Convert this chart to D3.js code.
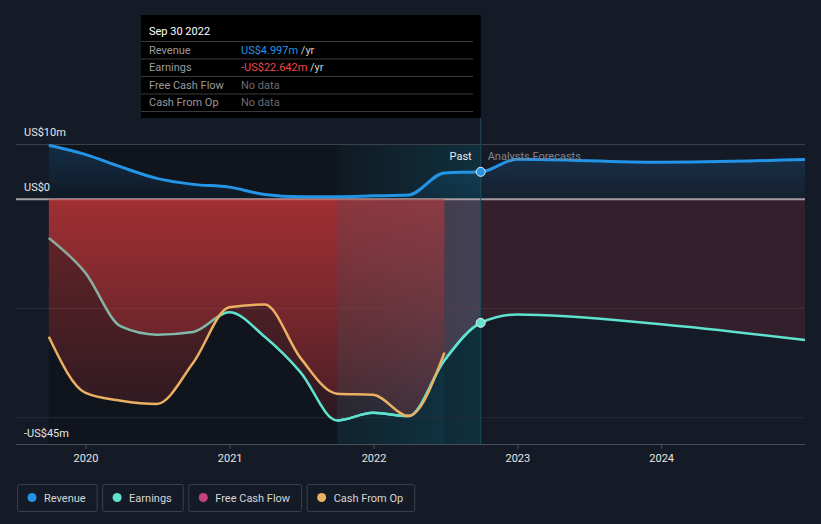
<!DOCTYPE html>
<html>
<head>
<meta charset="utf-8">
<script src="https://cdn.jsdelivr.net/npm/d3@7"></script>
<style>
  html, body { margin: 0; padding: 0; background: #151b26; }
  svg { display: block; font-family: Roboto, "Noto Sans", sans-serif; }
</style>
</head>
<body>
<svg id="chart" width="821" height="524"></svg>
<script>
// ---------- DATA ----------
const pastDates = ["2019-09-30","2019-12-31","2020-03-31","2020-06-30","2020-09-30","2020-12-31",
                   "2021-03-31","2021-06-30","2021-09-30","2021-12-31","2022-03-31","2022-06-30","2022-09-30"];
const forecastDates = ["2022-12-31","2023-12-31","2024-12-31"];
const revenuePast = [9.87, 8.2, 5.9, 3.8, 2.7, 2.2, 0.85, 0.45, 0.45, 0.6, 0.75, 4.8, 4.997];
const revenueForecast = [7.3, 6.75, 7.25];
const earningsPast = [-7.1, -13.4, -23.3, -24.8, -24.3, -20.7, -25.2, -31.7, -40.5, -39.1, -39.7, -29.5, -22.642];
const earningsForecast = [-21.1, -22.9, -25.8];
const cfoDates = pastDates.slice(0, 12);
const cashFromOp = [-25.2, -35.4, -36.9, -37.5, -30.0, -19.8, -19.3, -29.1, -35.6, -35.8, -39.7, -28.1];
const gridValues = [10, 0, -20, -40];
const yLabels = [{v: 10, t: "US$10m"}, {v: 0, t: "US$0"}, {v: -45, t: "-US$45m"}];
const xTickYears = [2020, 2021, 2022, 2023, 2024];
const highlightStart = "2021-09-30";
const nowDate = "2022-09-30";
const cfoEnd = "2022-06-30";
const tooltipTitle = "Sep 30 2022";
const tooltipRows = [
  {label: "Revenue", value: "US$4.997m", unit: " /yr", color: "#2394e6"},
  {label: "Earnings", value: "-US$22.642m", unit: " /yr", color: "#f04646"},
  {label: "Free Cash Flow", value: "No data", unit: "", color: "#6a6d73"},
  {label: "Cash From Op", value: "No data", unit: "", color: "#6a6d73"}
];
const legendItems = [
  {name: "Revenue", color: "#2394e6"},
  {name: "Earnings", color: "#5fe3cf"},
  {name: "Free Cash Flow", color: "#c4437f"},
  {name: "Cash From Op", color: "#ebb062"}
];

// ---------- BUILD ----------
const parse = d3.timeParse("%Y-%m-%d");
const revenue = pastDates.map((d, i) => ({date: parse(d), v: revenuePast[i]}))
  .concat(forecastDates.map((d, i) => ({date: parse(d), v: revenueForecast[i]})));
const earnings = pastDates.map((d, i) => ({date: parse(d), v: earningsPast[i]}))
  .concat(forecastDates.map((d, i) => ({date: parse(d), v: earningsForecast[i]})));
const cfo = cfoDates.map((d, i) => ({date: parse(d), v: cashFromOp[i]}));

const svg = d3.select("#chart");
const x = d3.scaleTime().domain([parse("2019-09-30"), parse("2024-12-31")]).range([48.8, 805]);
const y = d3.scaleLinear().domain([-45, 10]).range([445, 144.5]);

const xNow = x(parse(nowDate)), xHi = x(parse(highlightStart)), xCfoEnd = x(parse(cfoEnd));
const x0 = x.range()[0], x1 = x.range()[1];
const yTop = y(10), yBot = y(-45), yZero = y(0);

const defs = svg.append("defs");
function clip(id, a, b) {
  defs.append("clipPath").attr("id", id).append("rect")
    .attr("x", a).attr("y", 0).attr("width", b - a).attr("height", 524);
}
clip("cPast", x0, xCfoEnd);
clip("cGap", xCfoEnd, xNow);
clip("cFore", xNow, x1);
clip("cHi", xHi, xNow);

const redGrad = defs.append("linearGradient").attr("id", "redGrad")
  .attr("gradientUnits", "userSpaceOnUse").attr("x1", 0).attr("x2", 0).attr("y1", yZero).attr("y2", yBot);
redGrad.append("stop").attr("offset", 0).attr("stop-color", "#e43c3e").attr("stop-opacity", 0.43);
redGrad.append("stop").attr("offset", 1).attr("stop-color", "#e43c3e").attr("stop-opacity", 0.1);

const blueGrad = defs.append("linearGradient").attr("id", "blueGrad")
  .attr("gradientUnits", "userSpaceOnUse").attr("x1", 0).attr("x2", 0).attr("y1", yTop).attr("y2", yZero);
blueGrad.append("stop").attr("offset", 0).attr("stop-color", "#2196f3").attr("stop-opacity", 0.2);
blueGrad.append("stop").attr("offset", 1).attr("stop-color", "#2196f3").attr("stop-opacity", 0.04);

const hiGrad = defs.append("linearGradient").attr("id", "hiGrad")
  .attr("x1", 0).attr("x2", 1).attr("y1", 0).attr("y2", 0);
hiGrad.append("stop").attr("offset", 0).attr("stop-color", "#0f5a72").attr("stop-opacity", 0.08);
hiGrad.append("stop").attr("offset", 1).attr("stop-color", "#0f5a72").attr("stop-opacity", 0.4);

// background regions
svg.append("rect").attr("x", x0).attr("y", yTop).attr("width", xNow - x0).attr("height", yBot - yTop)
  .attr("fill", "#10141c");
svg.append("rect").attr("x", xHi).attr("y", yTop).attr("width", xNow - xHi).attr("height", yBot - yTop)
  .attr("fill", "url(#hiGrad)");

// gridlines
svg.append("g").selectAll("line").data(gridValues).join("line")
  .attr("x1", 16).attr("x2", x1).attr("y1", d => y(d)).attr("y2", d => y(d))
  .attr("stroke", d => d === 0 ? "#a3a3a6" : (d === 10 ? "#3b4049" : "#262b35"))
  .attr("stroke-width", d => d === 0 ? 2 : 1);

const curve = d3.curveMonotoneX;
const area0 = d3.area().x(d => x(d.date)).y0(yZero).y1(d => y(d.v)).curve(curve);
const line = d3.line().x(d => x(d.date)).y(d => y(d.v)).curve(curve);

// revenue fill
svg.append("path").attr("d", area0(revenue)).attr("fill", "url(#blueGrad)");

// earnings fills
svg.append("path").attr("d", area0(earnings)).attr("fill", "url(#redGrad)").attr("clip-path", "url(#cPast)");
svg.append("path").attr("d", area0(earnings)).attr("fill", "#dc7896").attr("fill-opacity", 0.25).attr("clip-path", "url(#cGap)");
svg.append("path").attr("d", area0(earnings)).attr("fill", "#d24150").attr("fill-opacity", 0.16).attr("clip-path", "url(#cFore)");

// earnings line (under CFO fill)
svg.append("path").attr("d", line(earnings)).attr("fill", "none").attr("stroke", "#5fe3cf").attr("stroke-width", 2.5);

// CFO fill
svg.append("path").attr("d", area0(cfo)).attr("fill", "url(#redGrad)");

// teal tint over the highlighted year
svg.append("rect").attr("x", xHi).attr("y", yZero).attr("width", xCfoEnd - xHi).attr("height", yBot - yZero)
  .attr("fill", "#145a6e").attr("fill-opacity", 0.14);

// earnings line again in highlight (bright)
svg.append("path").attr("d", line(earnings)).attr("fill", "none").attr("stroke", "#5fe3cf").attr("stroke-width", 2.5)
  .attr("clip-path", "url(#cHi)");

// CFO line
svg.append("path").attr("d", line(cfo)).attr("fill", "none").attr("stroke", "#ebb062").attr("stroke-width", 2.5);

// revenue line
svg.append("path").attr("d", line(revenue)).attr("fill", "none").attr("stroke", "#2394e6").attr("stroke-width", 3);

// now line
svg.append("line").attr("x1", xNow).attr("x2", xNow).attr("y1", 118).attr("y2", yBot)
  .attr("stroke", "#1d4c5c").attr("stroke-width", 1);

// dots
const nowD = parse(nowDate);
const revNow = revenue.find(d => +d.date === +nowD), earnNow = earnings.find(d => +d.date === +nowD);
svg.append("circle").attr("cx", x(revNow.date)).attr("cy", y(revNow.v)).attr("r", 4.5)
  .attr("fill", "#2394e6").attr("stroke", "#e8eef5").attr("stroke-width", 1);
svg.append("circle").attr("cx", x(earnNow.date)).attr("cy", y(earnNow.v)).attr("r", 4.5)
  .attr("fill", "#5fe3cf").attr("stroke", "#e8eef5").attr("stroke-width", 1);

// Past / forecasts labels
svg.append("text").attr("x", xNow - 9).attr("y", 160).attr("text-anchor", "end")
  .attr("fill", "#eeeeee").attr("font-size", 11).text("Past");
svg.append("text").attr("x", xNow + 7).attr("y", 160)
  .attr("fill", "#80848a").attr("font-size", 11).text("Analysts Forecasts");

// y labels
svg.append("g").selectAll("text").data(yLabels).join("text")
  .attr("x", 24).attr("y", d => y(d.v) - 8.5).attr("fill", "#e6e6e6").attr("font-size", 11)
  .text(d => d.t);

// x axis
svg.append("line").attr("x1", 16).attr("x2", x1).attr("y1", 444.5).attr("y2", 444.5)
  .attr("stroke", "#4a4f58").attr("stroke-width", 1);
const xAxis = d3.axisBottom(x)
  .tickValues(xTickYears.map(yv => new Date(yv, 0, 1)))
  .tickFormat(d3.timeFormat("%Y")).tickSize(5).tickPadding(5);
const gx = svg.append("g").attr("transform", "translate(0,444)").call(xAxis);
gx.select(".domain").remove();
gx.selectAll(".tick line").attr("stroke", "#4a4f58");
gx.selectAll(".tick text").attr("fill", "#e6e6e6").attr("font-size", 11)
  .attr("font-family", "Roboto, sans-serif");

// tooltip
const tt = svg.append("g");
tt.append("rect").attr("x", 141).attr("y", 15).attr("width", xNow - 141).attr("height", 103).attr("fill", "#000");
tt.append("text").attr("x", 149).attr("y", 35).attr("fill", "#ffffff").attr("font-size", 11).text(tooltipTitle);
const rowY = [41, 58.5, 76, 93.5, 111];
tt.selectAll("line.sep").data(rowY).join("line").attr("class", "sep")
  .attr("x1", 141).attr("x2", 473).attr("y1", d => d + 0.5).attr("y2", d => d + 0.5)
  .attr("stroke", "#3a3a3a").attr("stroke-width", 1);
tooltipRows.forEach((r, i) => {
  const yy = rowY[i] + 12.5;
  tt.append("text").attr("x", 149).attr("y", yy).attr("fill", "#9a9a9a").attr("font-size", 11).text(r.label);
  const t = tt.append("text").attr("x", 241).attr("y", yy).attr("font-size", 11);
  t.append("tspan").attr("fill", r.color).text(r.value);
  if (r.unit) t.append("tspan").attr("fill", "#cfcfcf").text(r.unit);
});

// legend
const lg = svg.append("g");
let lx = 17;
legendItems.forEach(it => {
  const g = lg.append("g");
  const txt = g.append("text").attr("x", lx + 27).attr("y", 501.5).attr("fill", "#d6d6d6")
    .attr("font-size", 11).text(it.name);
  const w = txt.node().getComputedTextLength() + 38;
  g.insert("rect", "text").attr("x", lx + 0.5).attr("y", 484.5).attr("width", w).attr("height", 27)
    .attr("rx", 2).attr("fill", "none").attr("stroke", "#3b404a").attr("stroke-width", 1);
  g.append("circle").attr("cx", lx + 15).attr("cy", 497.5).attr("r", 4.5).attr("fill", it.color);
  lx += w + 5.5;
});
</script>
</body>
</html>
